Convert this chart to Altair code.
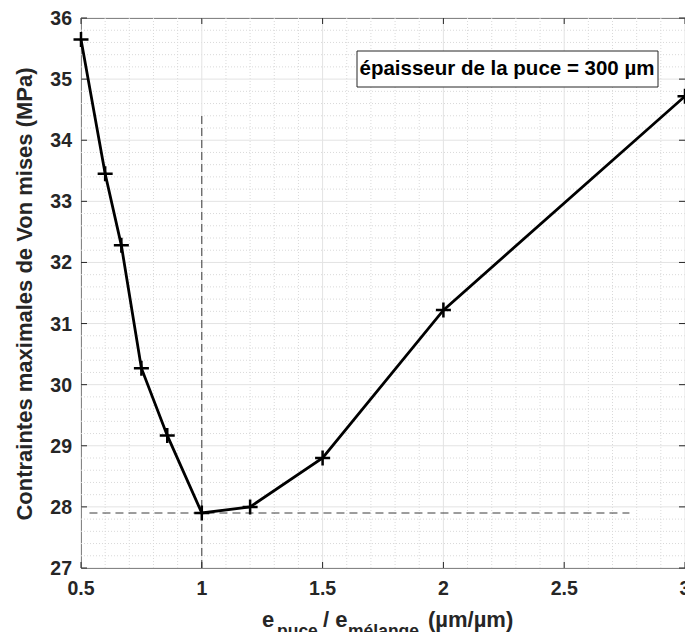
import altair as alt
import pandas as pd

# ---- data ----
ratio = [0.5, 0.6, 0.667, 0.75, 0.857, 1.0, 1.2, 1.5, 2.0, 3.0]
stress = [35.65, 33.45, 32.28, 30.27, 29.17, 27.9, 28.0, 28.8, 31.22, 34.72]

x_major = [0.5, 1.0, 1.5, 2.0, 2.5, 3.0]
x_labels = ["0.5", "1", "1.5", "2", "2.5", "3"]
y_major = [27, 28, 29, 30, 31, 32, 33, 34, 35, 36]
y_labels = ["27", "28", "29", "30", "31", "32", "33", "34", "35", "36"]
x_minor = [0.6, 0.7, 0.8, 0.9, 1.1, 1.2, 1.3, 1.4, 1.6, 1.7, 1.8, 1.9,
           2.1, 2.2, 2.3, 2.4, 2.6, 2.7, 2.8, 2.9]
y_minor = [27.2, 27.4, 27.6, 27.8, 28.2, 28.4, 28.6, 28.8, 29.2, 29.4, 29.6, 29.8,
           30.2, 30.4, 30.6, 30.8, 31.2, 31.4, 31.6, 31.8, 32.2, 32.4, 32.6, 32.8,
           33.2, 33.4, 33.6, 33.8, 34.2, 34.4, 34.6, 34.8, 35.2, 35.4, 35.6, 35.8]

vline_x = [1.0, 1.0]
vline_y = [27.0, 34.45]
hline_x = [0.535, 2.77]
hline_y = [27.9, 27.9]

annotation = "épaisseur de la puce = 300 µm"
y_title = "Contraintes maximales de Von mises (MPa)"
x_title_parts = ["e", "puce", "/ e", "mélange", "(µm/µm)"]

FONT = "Liberation Sans"
TXT = "#262626"
W, H = 604, 550

main_df = pd.DataFrame({"x": ratio, "y": stress})
xs = alt.Scale(domain=[0.5, 3], nice=False, zero=False)
ys = alt.Scale(domain=[27, 36], nice=False, zero=False)

def X(f="x"):
    return alt.X(f"{f}:Q", scale=xs, axis=None)

def Y(f="y"):
    return alt.Y(f"{f}:Q", scale=ys, axis=None)

xdf = pd.DataFrame({"x": x_major, "lab": x_labels})
ydf = pd.DataFrame({"y": y_major, "lab": y_labels})

# grids
minor_x = alt.Chart(pd.DataFrame({"x": x_minor})).mark_rule(
    color="#d9d9d9", strokeWidth=1, strokeDash=[1, 2]
).encode(x=X(), y=alt.value(0), y2=alt.value(H))
minor_y = alt.Chart(pd.DataFrame({"y": y_minor})).mark_rule(
    color="#d9d9d9", strokeWidth=1, strokeDash=[1, 2]
).encode(y=Y(), x=alt.value(0), x2=alt.value(W))
major_x = alt.Chart(xdf).mark_rule(color="#e3e3e3", strokeWidth=1).encode(
    x=X(), y=alt.value(0), y2=alt.value(H))
major_y = alt.Chart(ydf).mark_rule(color="#e3e3e3", strokeWidth=1).encode(
    y=Y(), x=alt.value(0), x2=alt.value(W))

# inward ticks
tick_style = dict(color=TXT, strokeWidth=1)
tb = alt.Chart(xdf).mark_rule(**tick_style).encode(x=X(), y=alt.value(H), y2=alt.value(H - 6))
tt = alt.Chart(xdf).mark_rule(**tick_style).encode(x=X(), y=alt.value(0), y2=alt.value(6))
tl = alt.Chart(ydf).mark_rule(**tick_style).encode(y=Y(), x=alt.value(0), x2=alt.value(6))
tr = alt.Chart(ydf).mark_rule(**tick_style).encode(y=Y(), x=alt.value(W), x2=alt.value(W - 6))

# tick labels
lab_style = dict(font=FONT, fontWeight="bold", fontSize=19.5, color=TXT)
xlab = alt.Chart(xdf).mark_text(align="center", baseline="alphabetic", **lab_style).encode(
    x=X(), y=alt.value(577), text="lab:N")
ylab = alt.Chart(ydf).mark_text(align="right", baseline="alphabetic", dy=7, **lab_style).encode(
    y=Y(), x=alt.value(-9), text="lab:N")

# dashed reference lines
vline = alt.Chart(pd.DataFrame({"x": vline_x, "y": vline_y})).mark_line(
    color="#3a3a3a", strokeWidth=1, strokeDash=[8, 4]).encode(x=X(), y=Y())
hline = alt.Chart(pd.DataFrame({"x": hline_x, "y": hline_y})).mark_line(
    color="#3a3a3a", strokeWidth=1, strokeDash=[8, 5]).encode(x=X(), y=Y())

# data
line = alt.Chart(main_df).mark_line(color="black", strokeWidth=2.8).encode(x=X(), y=Y())
pts = alt.Chart(main_df).mark_point(
    shape="M-1,0L1,0M0,-1L0,1", filled=False, stroke="black", strokeWidth=2.5, size=225, opacity=1
).encode(x=X(), y=Y())

# annotation box
ann_df = pd.DataFrame({"t": [annotation]})
box = alt.Chart(ann_df).mark_rect(fill="white", stroke=TXT, strokeWidth=1).encode(
    x=alt.value(276), x2=alt.value(577), y=alt.value(33), y2=alt.value(69))
box_txt = alt.Chart(ann_df).mark_text(
    font=FONT, fontWeight="bold", fontSize=20.5, color="black", align="center", baseline="middle"
).encode(x=alt.value(426), y=alt.value(51), text="t:N")

# axis titles
yt = alt.Chart(pd.DataFrame({"t": [y_title]})).mark_text(
    font=FONT, fontWeight="bold", fontSize=22, color=TXT, angle=270, align="center", baseline="middle"
).encode(x=alt.value(-56), y=alt.value(276), text="t:N")

xt_df = pd.DataFrame({"t": x_title_parts})
def part(i, xpos, ypos, size):
    return alt.Chart(xt_df.iloc[[i]]).mark_text(
        font=FONT, fontWeight="bold", fontSize=size, color=TXT, align="left", baseline="alphabetic"
    ).encode(x=alt.value(xpos), y=alt.value(ypos), text="t:N")

xt = (part(0, 181, 609, 22) + part(1, 196, 619, 17.5) + part(2, 242, 609, 22)
      + part(3, 267, 619, 17.5) + part(4, 347, 609, 22))

chart = alt.layer(
    minor_x, minor_y, major_x, major_y, vline, hline, line, pts,
    tb, tt, tl, tr, xlab, ylab, box, box_txt, yt, xt
).properties(
    width=W, height=H,
    autosize=alt.AutoSizeParams(type="none"),
    padding={"left": 73, "top": 10, "right": 0, "bottom": 64},
    background="white",
).configure_view(stroke=TXT, strokeWidth=1)

chart.save("out.html", embed_options={"renderer": "svg", "actions": False})
